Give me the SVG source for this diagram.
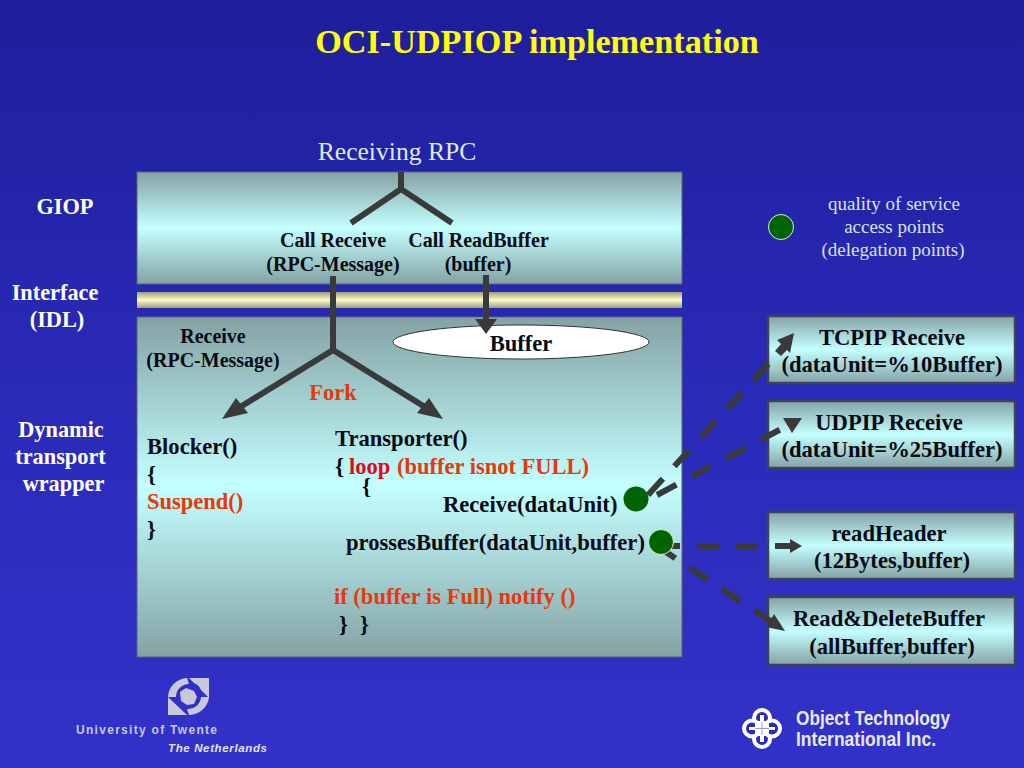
<svg xmlns="http://www.w3.org/2000/svg" width="1024" height="768" viewBox="0 0 1024 768">
<style>
text{font-family:"Liberation Serif","Times New Roman",serif;text-anchor:middle}
.b{font-weight:bold}
.k{fill:#050a14;font-weight:bold;font-size:22.600px}
.s{fill:#050a14;font-weight:bold;font-size:20px}
.w{fill:#fff;font-weight:bold;font-size:22.300px}
.r{fill:#e8380c;font-weight:bold;font-size:22.500px}
.st{text-anchor:start}
.box{stroke:#3c4450;stroke-width:2.500}
.ln{fill:none;stroke:#3a3a3a;stroke-width:6}
.da{fill:none;stroke:#3a3a3a;stroke-width:6;stroke-dasharray:22 17}
.ah{fill:#3a3a3a}
.dot{fill:#006400}
.sm{fill:#d6e4ef;font-size:19px}
.ss{font-family:"Liberation Sans",Arial,sans-serif;font-weight:bold}
</style>
<defs>
<linearGradient id="bg" x1="0" y1="0" x2="0" y2="1"><stop offset="0" stop-color="#1e1e9c"/><stop offset=".5" stop-color="#2a2ab8"/><stop offset="1" stop-color="#3232ca"/></linearGradient>
<linearGradient id="t" x1="0" y1="0" x2="0" y2="1"><stop offset="0" stop-color="#84a2a4"/><stop offset=".5" stop-color="#c4ffff"/><stop offset="1" stop-color="#84a2a4"/></linearGradient>
<linearGradient id="y" x1="0" y1="0" x2="0" y2="1"><stop offset="0" stop-color="#9c9c78"/><stop offset=".5" stop-color="#fffcc8"/><stop offset="1" stop-color="#9c9c78"/></linearGradient>
</defs>
<rect width="1024" height="768" fill="url(#bg)"/>
<text x="537" y="53" font-size="34.200" class="b" fill="#ffff00">OCI-UDPIOP implementation</text>
<text x="397" y="160" font-size="25.600" fill="#dfeaf2">Receiving RPC</text>

<g id="giop"><rect x="137" y="172" width="545" height="112" fill="url(#t)" stroke="#56666e"/></g>
<g id="idl"><rect x="137" y="292" width="545" height="16" fill="url(#y)"/></g>
<g id="wrapper"><rect x="137" y="317" width="545" height="340" fill="url(#t)" stroke="#56666e"/></g>

<g id="side-labels">
<text x="65" y="214" class="w">GIOP</text>
<text x="55" y="300" class="w">Interface</text>
<text x="57" y="327" class="w">(IDL)</text>
<text x="61" y="437" class="w">Dynamic</text>
<text x="60.500" y="464" class="w">transport</text>
<text x="63.500" y="491" class="w">wrapper</text>
</g>

<g id="buffer"><ellipse cx="521" cy="342" rx="128" ry="17" fill="#fff" stroke="#333"/><text x="521" y="351" class="k">Buffer</text></g>

<g id="call-receive"><text x="333" y="247" class="s">Call Receive</text><text x="333" y="271" class="s">(RPC-Message)</text></g>
<g id="call-readbuffer"><text x="478.500" y="247" class="s">Call ReadBuffer</text><text x="478" y="271" class="s">(buffer)</text></g>
<g id="receive"><text x="213" y="343" class="s">Receive</text><text x="213" y="367" class="s">(RPC-Message)</text></g>
<text x="333" y="400" class="r">Fork</text>

<g id="blocker">
<text x="147" y="454" class="k st">Blocker()</text>
<text x="147" y="482" class="k st">{</text>
<text x="147" y="509" class="r st">Suspend()</text>
<text x="147" y="537" class="k st">}</text>
</g>
<g id="transporter">
<text x="335" y="446" class="k st">Transporter()</text>
<text x="335" y="474" class="k st">{</text>
<text x="349" y="474" class="r st" style="fill:#e0081c">loop</text>
<text x="397" y="474" class="r st">(buffer isnot FULL)</text>
<text x="362" y="494" class="k st">{</text>
<text x="443" y="512" class="k st">Receive(dataUnit)</text>
<text x="346" y="550" class="k st">prossesBuffer(dataUnit,buffer)</text>
<text x="334" y="604" class="r st">if (buffer is Full) notify ()</text>
<text x="339" y="632" class="k st">}</text>
<text x="360" y="632" class="k st">}</text>
</g>

<g id="tcpip"><rect class="box" x="768" y="316" width="247" height="67" fill="url(#t)"/><text x="892" y="345" class="k">TCPIP Receive</text><text x="892" y="372" class="k">(dataUnit=%10Buffer)</text></g>
<g id="udpip"><rect class="box" x="768" y="401" width="247" height="67" fill="url(#t)"/><text x="889" y="430" class="k">UDPIP Receive</text><text x="892" y="457" class="k">(dataUnit=%25Buffer)</text></g>
<g id="readheader"><rect class="box" x="768" y="512" width="247" height="67" fill="url(#t)"/><text x="889" y="541" class="k">readHeader</text><text x="892" y="568" class="k">(12Bytes,buffer)</text></g>
<g id="readdelete"><rect class="box" x="768" y="597" width="247" height="68" fill="url(#t)"/><text x="889" y="626" class="k">Read&amp;DeleteBuffer</text><text x="892" y="654" class="k">(allBuffer,buffer)</text></g>

<g id="connectors">
<path class="ln" d="M401 172V189M351 223L401 189L452 223"/>
<path class="ln" d="M333 276V350M333 350L232 412M333 350L433 412"/>
<path class="ah" d="M222 419L248 413L236 398ZM443 419L417 413L429 398Z"/>
<path class="ln" d="M486 275V322"/>
<path class="ah" d="M475 319H497L486 334Z"/>
<path class="da" d="M648 495L771 361"/>
<path class="ah" d="M794 333L777 340L781 344L775 351L781 356L787 350L790 353Z"/>
<path class="da" d="M657 495L783 428"/>
<path class="ah" d="M783 418H802L792 433Z"/>
<path class="da" d="M658 546H776"/>
<path class="ah" d="M775 543H790V539L802 546L790 553V549H775Z"/>
<path class="da" d="M657 546L772 622"/>
<path class="ah" d="M785 631L766 627L774 614Z"/>
</g>

<g id="qos-legend">
<circle class="dot" cx="781" cy="227" r="12.500" stroke="#d8f0c8"/>
<text x="894" y="210" class="sm">quality of service</text>
<text x="894" y="233" class="sm">access points</text>
<text x="893" y="256" class="sm">(delegation points)</text>
</g>
<g id="qos1"><circle class="dot" cx="636" cy="499" r="12.500"/></g>
<g id="qos2"><circle class="dot" cx="661" cy="542" r="12.500" stroke="#d8f0c8"/></g>

<g id="twente-logo">
<path fill="#c8c8d8" d="M189 678H209V698L201 690A12 12 0 0 0 194 683ZM168 697A20 20 0 0 1 187 678L189 684A13 13 0 0 0 176 697ZM209 697A20 20 0 0 1 189 715L187 709A13 13 0 0 0 201 697ZM168 697L187 715H168Z"/>
<path fill="#c8c8d8" d="M180 692L186 688L194 691L197 697L194 704L187 705L181 701Z"/>
<text x="146.500" y="734" font-size="12" class="ss" fill="#c8c8d8" textLength="141">University of Twente</text>
<text x="217.500" y="752" font-size="11.500" class="ss" font-style="italic" fill="#e4e4f0" textLength="99">The Netherlands</text>
</g>
<g id="oti-logo">
<g fill="#2c2cb8" stroke="#fff" stroke-width="4"><circle cx="762" cy="718" r="8"/><circle cx="762" cy="739" r="8"/><circle cx="752" cy="728.500" r="8"/><circle cx="772" cy="728.500" r="8"/></g>
<path fill="#fff" d="M755 721h14v15h-14zM760 715h4v8h-4zM760 734h4v8h-4zM749 727h8v3h-8zM767 727h8v3h-8z"/>
<path stroke="#a0a0d0" fill="none" d="M762 722v13M755 728.500h14"/>
<text x="796" y="725" font-size="20" class="ss" style="text-anchor:start" fill="#e8e8f4" textLength="154" lengthAdjust="spacingAndGlyphs">Object Technology</text>
<text x="796" y="746" font-size="20" class="ss" style="text-anchor:start" fill="#e8e8f4" textLength="140" lengthAdjust="spacingAndGlyphs">International Inc.</text>
</g>
</svg>
